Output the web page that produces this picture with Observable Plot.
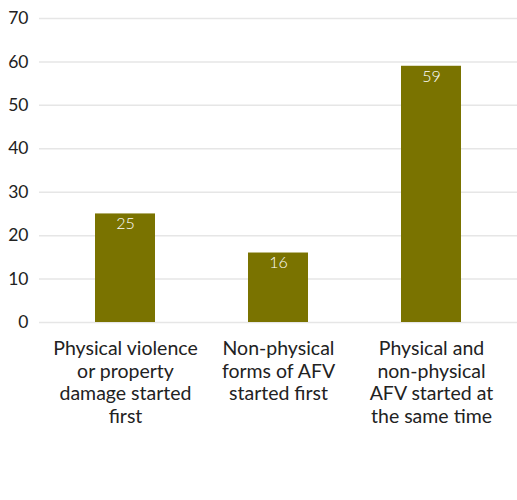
<!DOCTYPE html>
<html><head><meta charset="utf-8">
<script src="https://cdn.jsdelivr.net/npm/d3@7"></script>
<script src="https://cdn.jsdelivr.net/npm/@observablehq/plot@0.6"></script>
<style>body{margin:0;background:#fff;font-family:Lato,sans-serif;}</style>
</head><body><div id="chart"></div>
<script>
const categories = [
  "Physical violence\nor property\ndamage started\nfirst",
  "Non-physical\nforms of AFV\nstarted first",
  "Physical and\nnon-physical\nAFV started at\nthe same time"
];
const values = [25, 16, 59];
const yTicks = [0, 10, 20, 30, 40, 50, 60, 70];
const data = categories.map((c, i) => ({category: c, value: values[i]}));

const chart = Plot.plot({
  width: 517,
  height: 500,
  marginLeft: 39,
  marginRight: 0,
  marginTop: 18,
  marginBottom: 178,
  style: {fontFamily: "Lato, sans-serif", color: "#222", background: "#fff"},
  x: {domain: categories, paddingInner: 0.61, paddingOuter: 0.36, label: null},
  y: {domain: [0, 70], label: null},
  marks: [
    Plot.gridY(yTicks, {stroke: "#e6e6e6", strokeOpacity: 1, strokeWidth: 1.5}),
    Plot.barY(data, {x: "category", y: "value", fill: "#7a7300"}),
    Plot.text(data, {x: "category", y: "value", text: d => String(d.value), fill: "white", lineAnchor: "top", dy: 4, fontSize: 16, fontWeight: 300}),
    Plot.axisY(yTicks, {tickSize: 0, tickPadding: 11, fontSize: 17.5, fill: "#222"}),
    Plot.axisX({tickSize: 0, tickPadding: 16, fontSize: 19.5, lineHeight: 1.17, fill: "#222", lineAnchor: "top"})
  ]
});
document.getElementById("chart").appendChild(chart);
</script></body></html>
